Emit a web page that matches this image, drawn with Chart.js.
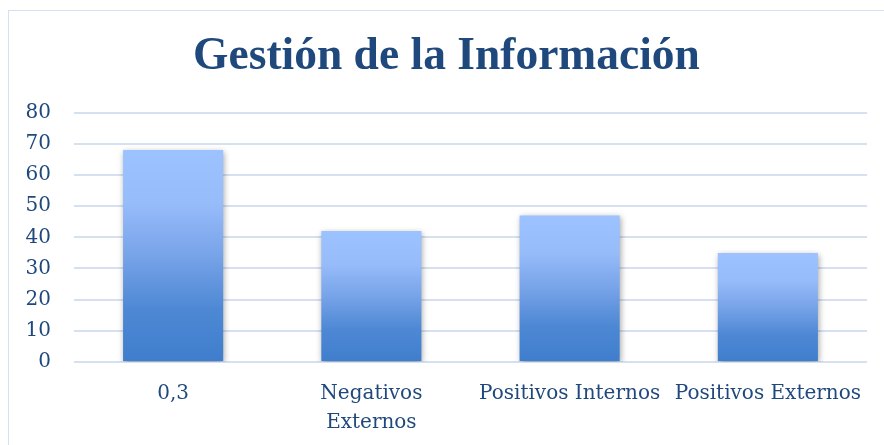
<!DOCTYPE html>
<html>
<head>
<meta charset="utf-8">
<script src="https://cdn.jsdelivr.net/npm/chart.js@4/dist/chart.umd.min.js"></script>
<style>
  html, body { margin:0; padding:0; background:#fff; overflow:hidden; }
  #wrap { position:relative; width:884px; height:445px; overflow:hidden; }
  #frame { position:absolute; left:8px; top:10px; width:890px; height:450px; border:1px solid #D5E1F1; box-sizing:border-box; }
  canvas { position:absolute; left:0; top:0; }
</style>
</head>
<body>
<div id="wrap">
  <div id="frame"></div>
  <canvas id="c" width="884" height="445"></canvas>
</div>
<script>
const titleText = "Gestión de la Información";
const categories = ["0,3", ["Negativos", "Externos"], "Positivos Internos", "Positivos Externos"];
const values = [68, 42, 47, 35];
const yTicks = [0, 10, 20, 30, 40, 50, 60, 70, 80];

const titleFont = "'Liberation Serif', serif";
const tickFont = "'DejaVu Serif', serif";
const textColor = "#1F497D";

function barGradient(ctx) {
  const chart = ctx.chart;
  if (!chart.chartArea || ctx.type !== 'data') return '#7FAEF0';
  const y = chart.scales.y;
  const top = y.getPixelForValue(ctx.parsed.y);
  const base = y.getPixelForValue(0);
  const g = chart.ctx.createLinearGradient(0, top, 0, base);
  g.addColorStop(0, '#9CC2FF');
  g.addColorStop(0.25, '#97BCFA');
  g.addColorStop(0.5, '#77A3E8');
  g.addColorStop(0.75, '#4E88D4');
  g.addColorStop(1, '#3F7ECD');
  return g;
}

const shadowPlugin = {
  id: 'barShadow',
  beforeDatasetDraw(chart) {
    const c = chart.ctx;
    c.save();
    c.shadowColor = 'rgba(0,0,0,0.35)';
    c.shadowBlur = 6;
    c.shadowOffsetX = 1;
    c.shadowOffsetY = 2;
  },
  afterDatasetDraw(chart) {
    chart.ctx.restore();
  }
};

new Chart(document.getElementById('c'), {
  type: 'bar',
  data: {
    labels: categories,
    datasets: [{
      data: values,
      backgroundColor: barGradient,
      borderWidth: 0,
      barPercentage: 1,
      categoryPercentage: 0.505
    }]
  },
  plugins: [shadowPlugin],
  options: {
    responsive: false,
    animation: false,
    devicePixelRatio: 1,
    layout: { padding: { left: 26, right: 17, top: 0, bottom: 0 } },
    plugins: {
      legend: { display: false },
      tooltip: { enabled: false },
      title: {
        display: true,
        text: titleText,
        color: textColor,
        font: { family: titleFont, size: 45.5, weight: 'bold' },
        padding: { top: 30, bottom: 28 }
      }
    },
    scales: {
      x: {
        afterFit(axis) { axis.height = 83; axis.paddingLeft = 0; axis.paddingRight = 0; },
        grid: { display: false },
        border: { display: false },
        ticks: {
          color: textColor,
          font: { family: tickFont, size: 20, lineHeight: 1.45 },
          maxRotation: 0,
          minRotation: 0,
          autoSkip: false,
          padding: 9
        }
      },
      y: {
        min: 0,
        max: 80,
        afterFit(axis) { axis.width = 48; axis.paddingTop = 0; axis.paddingBottom = 0; },
        afterBuildTicks(axis) { axis.ticks = yTicks.map(v => ({ value: v })); },
        grid: { color: '#D5E1F1', lineWidth: 2, drawTicks: false },
        border: { display: false },
        ticks: {
          color: textColor,
          font: { family: tickFont, size: 20 },
          padding: 23
        }
      }
    }
  }
});
</script>
</body>
</html>
